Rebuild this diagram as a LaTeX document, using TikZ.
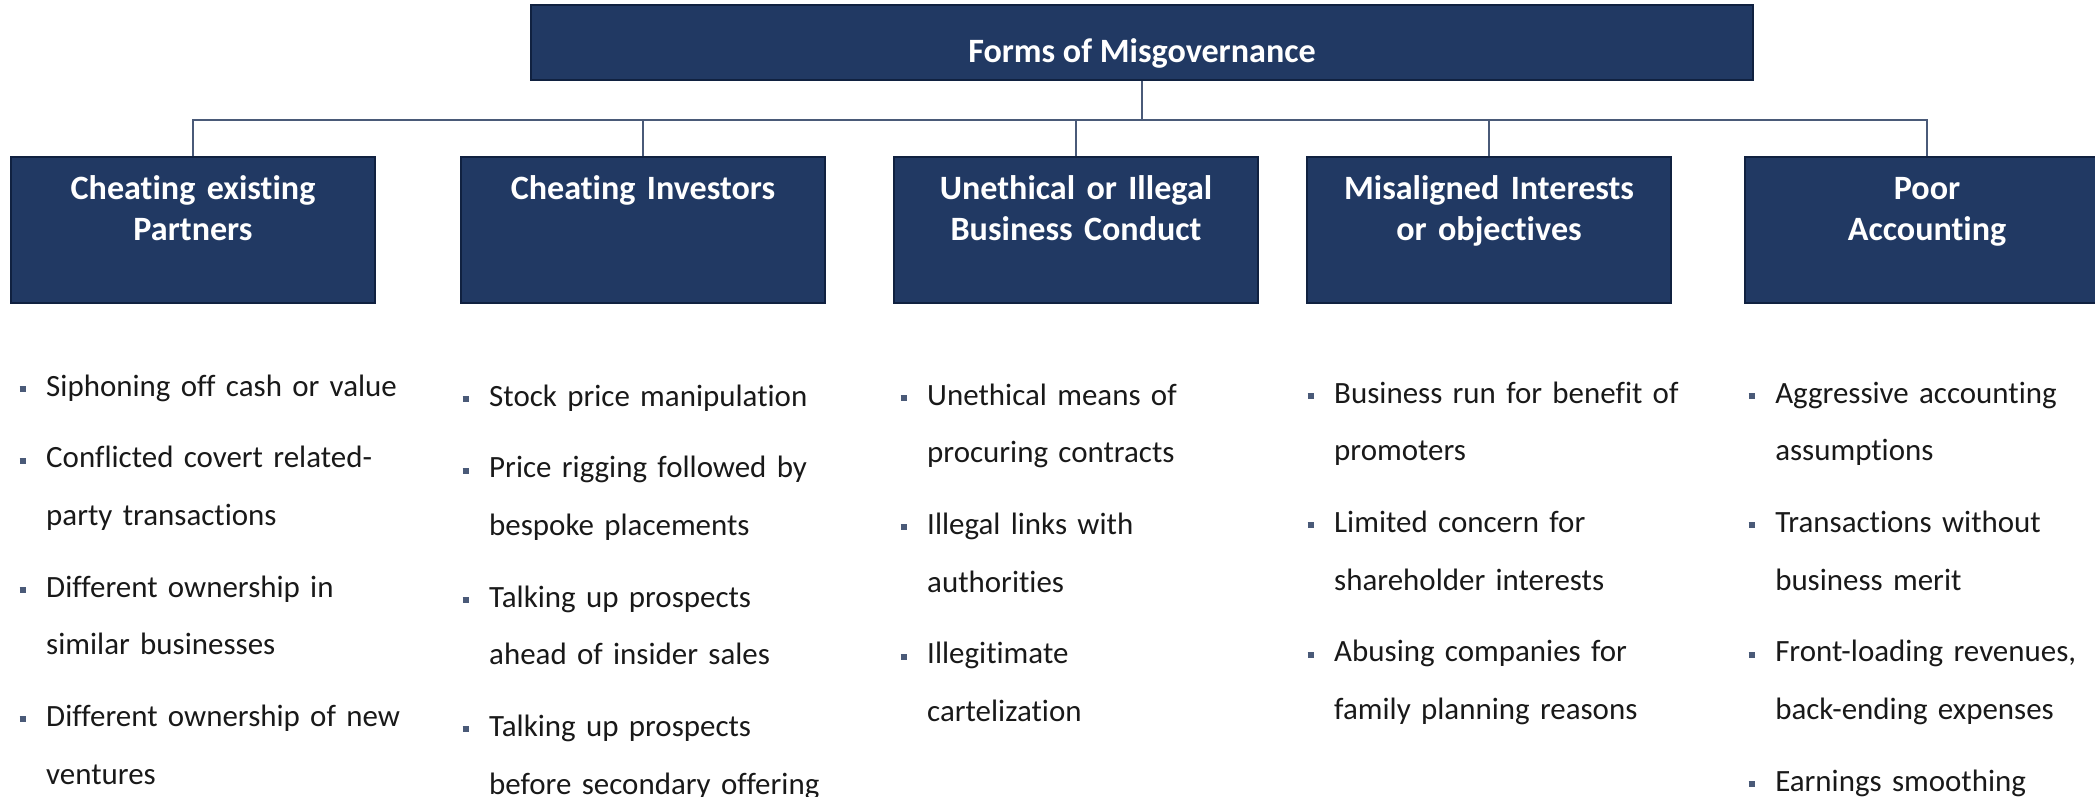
\documentclass[tikz,border=0pt]{standalone}
\usepackage{fontspec}
\setmainfont{Carlito}[Ligatures={NoCommon,NoContextual,NoRequired}, Contextuals=NoAlternate]
\usetikzlibrary{positioning}
\definecolor{boxblue}{RGB}{33,57,99}
\definecolor{boxedge}{RGB}{16,33,64}
\definecolor{linegray}{RGB}{74,90,120}
\definecolor{bulletgray}{RGB}{74,90,120}
\definecolor{textdark}{RGB}{25,25,25}

\newlength{\bind}\setlength{\bind}{0.265cm}
\newcommand{\bitem}[1]{\noindent\hangindent=\bind\hangafter=1\makebox[\bind][l]{\textcolor{bulletgray}{\rule[0.04cm]{0.065cm}{0.06cm}}}\textcolor{textdark}{#1}\par\vspace{0.14cm}}

\begin{document}
\begin{tikzpicture}[
    x=0.01cm, y=-0.01cm,
    topbox/.style={rectangle, draw=boxedge, line width=0.6pt, fill=boxblue, text=white, minimum width=12.22cm, inner sep=0pt, text height=0.57cm, text depth=0.18cm, font=\fontsize{9.7pt}{11.5pt}\selectfont\bfseries},
    formbox/.style={rectangle, draw=boxedge, line width=0.6pt, fill=boxblue, text=white, text width=3.3cm, align=center, inner xsep=0.17cm, inner ysep=0pt, text height=0.43cm, text depth=1.03cm, font=\fontsize{9.7pt}{11.6pt}\selectfont\bfseries},
    bullets/.style={anchor=base west, inner sep=0pt, text width=4.5cm, font=\fontsize{8.8pt}{16.4pt}\selectfont},
    conn/.style={draw=linegray, line width=0.6pt}
]
\useasboundingbox (0,0) rectangle (2095,796);

% Top level
\node[topbox] (forms) at (1142,42.5) {Forms of Misgovernance};
\coordinate (hub) at (1142,120);

% Forms
\node[formbox] (cheat-partners) at (193,230) {Cheating existing\\Partners};
\node[formbox] (cheat-investors) at (643,230) {Cheating Investors};
\node[formbox] (unethical) at (1076,230) {Unethical or Illegal\\Business Conduct};
\node[formbox] (misaligned) at (1489,230) {Misaligned Interests\\or objectives};
\node[formbox] (accounting) at (1927,230) {Poor\\Accounting};

% Connectors
\draw[conn] (forms.south) -- (hub);
\foreach \f in {cheat-partners,cheat-investors,unethical,misaligned,accounting}
    \draw[conn] (\f.north) |- (hub);

% Examples
\node[bullets] (partners-list) at (19,396) {%
\bitem{Siphoning off cash or value}
\bitem{Conflicted covert related-\newline party transactions}
\bitem{Different ownership in\newline similar businesses}
\bitem{Different ownership of new\newline ventures}};
\node[bullets] (investors-list) at (462,406) {%
\bitem{Stock price manipulation}
\bitem{Price rigging followed by\newline bespoke placements}
\bitem{Talking up prospects\newline ahead of insider sales}
\bitem{Talking up prospects\newline before secondary offering}};
\node[bullets] (conduct-list) at (900,405) {%
\bitem{Unethical means of\newline procuring contracts}
\bitem{Illegal links with\newline authorities}
\bitem{Illegitimate\newline cartelization}};
\node[bullets] (interests-list) at (1307,403) {%
\bitem{Business run for benefit of\newline promoters}
\bitem{Limited concern for\newline shareholder interests}
\bitem{Abusing companies for\newline family planning reasons}};
\node[bullets] (accounting-list) at (1748,403) {%
\bitem{Aggressive accounting\newline assumptions}
\bitem{Transactions without\newline business merit}
\bitem{Front-loading revenues,\newline back-ending expenses}
\bitem{Earnings smoothing}};

\end{tikzpicture}
\end{document}
